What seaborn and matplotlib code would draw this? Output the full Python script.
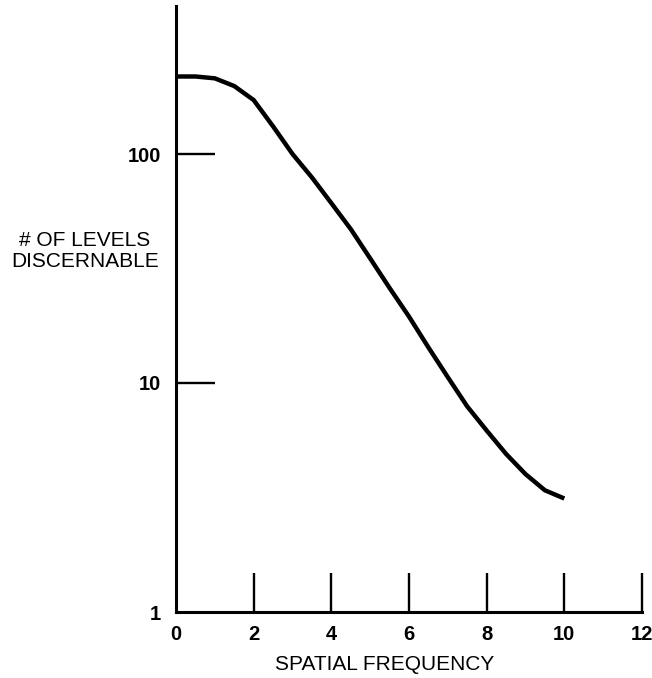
import matplotlib
matplotlib.use("Agg")
import matplotlib.pyplot as plt
import seaborn as sns
import pandas as pd

# Data
spatial_frequency = [0, 0.5, 1.0, 1.5, 2.0, 2.5, 3.0, 3.5, 4.0, 4.5, 5.0,
                     5.5, 6.0, 6.5, 7.0, 7.5, 8.0, 8.5, 9.0, 9.5, 10.0]
levels_discernable = [218, 218, 214, 198, 172, 132, 100, 79, 61, 47, 35,
                      26, 19.5, 14.3, 10.6, 7.9, 6.2, 4.9, 4.0, 3.4, 3.13]
x_ticks = [0, 2, 4, 6, 8, 10, 12]
y_ticks = [1, 10, 100]
y_tick_labels = ["1", "10", "100"]
x_label = "SPATIAL FREQUENCY"
y_label = "# OF LEVELS\nDISCERNABLE"

sns.set_style("white")
plt.rcParams["font.family"] = ["Liberation Sans", "DejaVu Sans"]
plt.rcParams["text.color"] = "black"
plt.rcParams["xtick.color"] = "black"
plt.rcParams["ytick.color"] = "black"

df = pd.DataFrame({"freq": spatial_frequency, "levels": levels_discernable})

fig = plt.figure(figsize=(6.52, 6.78), dpi=100)
W, H = 652, 678
left, right, top, bottom = 176, 642, 6, 612
ax = fig.add_axes([left / W, 1 - bottom / H, (right - left) / W, (bottom - top) / H])

sns.lineplot(data=df, x="freq", y="levels", ax=ax, color="black",
             linewidth=3.2, solid_capstyle="butt", solid_joinstyle="round")

ax.set_yscale("log")
ax.set_xlim(0, 12)
ax.set_ylim(1, 10 ** ((bottom - top) / 229.0))

for s in ["top", "right"]:
    ax.spines[s].set_visible(False)
for s in ["left", "bottom"]:
    ax.spines[s].set_linewidth(2.2)
    ax.spines[s].set_color("black")

ax.set_xticks(x_ticks)
ax.set_xticklabels([str(t) for t in x_ticks])
ax.set_yticks(y_ticks)
ax.set_yticklabels(y_tick_labels)
ax.yaxis.set_minor_locator(matplotlib.ticker.NullLocator())
ax.tick_params(axis="both", which="major", direction="in", length=28,
               width=1.7, color="black", labelcolor="black", labelsize=14.5,
               pad=9, bottom=True, left=True)
ax.tick_params(axis="y", pad=11)
for lab in ax.get_xticklabels() + ax.get_yticklabels():
    lab.set_fontweight("bold")
# ticks at the origin lie on the axis lines; hide their marks, keep labels
ax.xaxis.get_major_ticks()[0].tick1line.set_visible(False)
ax.yaxis.get_major_ticks()[0].tick1line.set_visible(False)

ax.set_xlabel("")
ax.set_ylabel("")
fig.text(385 / W, 1 - 664 / H, x_label, ha="center", va="center", fontsize=15,
         color="black")
fig.text(85 / W, 1 - 251 / H, y_label, ha="center", va="center", fontsize=15,
         multialignment="center", linespacing=1.15, color="black")

fig.savefig("out.png", dpi=100, facecolor="white")
